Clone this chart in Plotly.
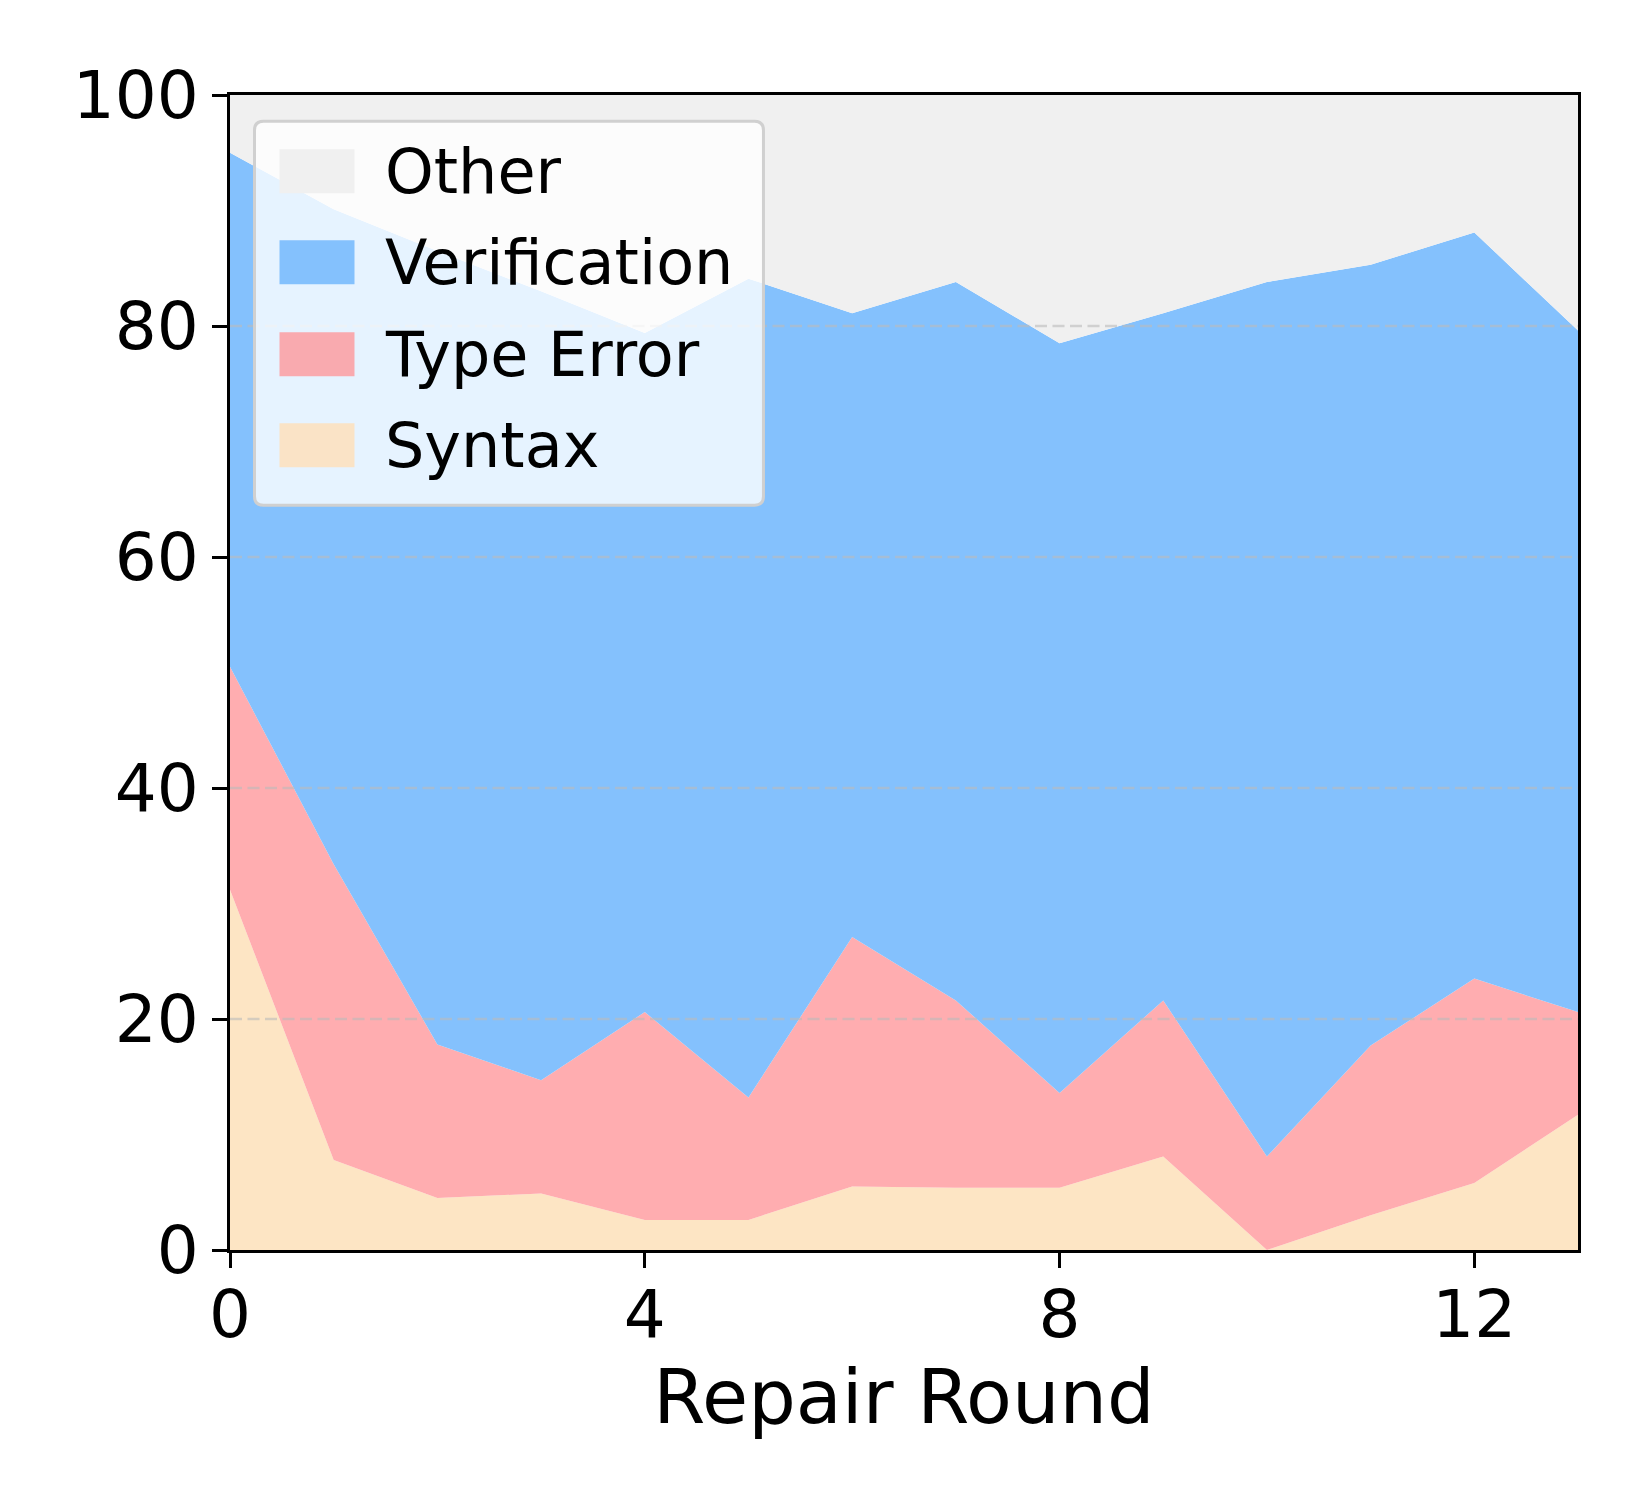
import plotly.graph_objects as go

rounds = list(range(14))
syntax = [31.2, 7.8, 4.5, 4.9, 2.6, 2.6, 5.5, 5.4, 5.4, 8.1, 0.0, 3.0, 5.8, 11.7]
type_error = [19.3, 25.6, 13.3, 9.8, 18.0, 10.6, 21.6, 16.2, 8.2, 13.5, 8.1, 14.7, 17.7, 8.9]
verification = [44.5, 56.7, 68.7, 68.3, 58.8, 70.9, 54.0, 62.2, 64.9, 59.5, 75.7, 67.6, 64.6, 59.0]
other = [5.0, 9.9, 13.5, 17.0, 20.6, 15.9, 18.9, 16.2, 21.5, 18.9, 16.2, 14.7, 11.9, 20.4]

series_names = ["Syntax", "Type Error", "Verification", "Other"]
series_values = [syntax, type_error, verification, other]
colors = ["#FDE5C4", "#FFADB0", "#84C1FD", "#F0F0F0"]
legend_colors = {"Other": "#F0F0F0", "Verification": "#84C1FD", "Type Error": "#F9AAAF", "Syntax": "#FAE3C6"}

x_ticks = [0, 4, 8, 12]
y_ticks = [0, 20, 40, 60, 80, 100]
grid_vals = [20, 40, 60, 80]

W, H = 1650, 1500
OFF = 8  # default body margin of the html page
L, R, T, B = 229.5, 1577.6, 94.7, 1250.1
FONT = "DejaVu Sans"

fig = go.Figure()
for name, vals, col in zip(series_names, series_values, colors):
    fig.add_trace(go.Scatter(
        x=rounds, y=vals, name=name, mode="lines",
        line=dict(width=0, color=col), fillcolor=col,
        stackgroup="one", showlegend=False, hoverinfo="x+y+name",
    ))

def px_x(p):
    return (p - L) / (R - L)

def px_y(p):
    return (B - p) / (B - T)

shapes = []
for g in grid_vals:
    shapes.append(dict(type="line", xref="paper", yref="y", x0=0, x1=1, y0=g, y1=g,
                       line=dict(color="rgba(187,187,187,0.6)", width=2.5, dash="12px,5.5px"), layer="above"))

# rounded legend box
bx0, bx1, by0, by1, rad = 254, 763, 121, 505, 9
def P(x, y):
    return f"{px_x(x):.5f},{px_y(y):.5f}"
path = (f"M{P(bx0 + rad, by0)} L{P(bx1 - rad, by0)} Q{P(bx1, by0)} {P(bx1, by0 + rad)} "
        f"L{P(bx1, by1 - rad)} Q{P(bx1, by1)} {P(bx1 - rad, by1)} "
        f"L{P(bx0 + rad, by1)} Q{P(bx0, by1)} {P(bx0, by1 - rad)} "
        f"L{P(bx0, by0 + rad)} Q{P(bx0, by0)} {P(bx0 + rad, by0)} Z")
shapes.append(dict(type="path", xref="paper", yref="paper", path=path,
                   fillcolor="rgba(255,255,255,0.8)", line=dict(color="#D0D0D0", width=3), layer="above"))

annotations = []
legend_order = ["Other", "Verification", "Type Error", "Syntax"]
centers = [171, 262, 354, 445]
for name, cy in zip(legend_order, centers):
    shapes.append(dict(type="rect", xref="paper", yref="paper",
                       x0=px_x(279), x1=px_x(354), y0=px_y(cy + 22), y1=px_y(cy - 22),
                       fillcolor=legend_colors[name], line=dict(width=0), layer="above"))
    annotations.append(dict(xref="paper", yref="paper", x=px_x(383), y=px_y(cy),
                            xanchor="left", yanchor="middle", text=name, showarrow=False,
                            font=dict(family=FONT, size=62, color="black")))

fig.update_layout(
    width=W, height=H,
    margin=dict(l=L - OFF, r=W - R + OFF, t=T - OFF, b=H - B + OFF, pad=0),
    paper_bgcolor="white", plot_bgcolor="white",
    font=dict(family=FONT, size=62, color="black"),
    shapes=shapes, annotations=annotations,
    showlegend=False,
)
fig.update_xaxes(
    range=[0, 13], tickvals=x_ticks, ticktext=[str(v) for v in x_ticks],
    ticks="outside", ticklen=15, tickwidth=3, tickcolor="black",
    showline=True, linewidth=3, linecolor="black", mirror=True,
    showgrid=False, zeroline=False, ticklabelstandoff=-10,
    tickfont=dict(family=FONT, size=66, color="black"),
    title=dict(text="Repair Round", font=dict(family=FONT, size=75, color="black"), standoff=14),
)
fig.update_yaxes(
    range=[0, 100], tickvals=y_ticks, ticktext=[str(v) for v in y_ticks],
    ticks="outside", ticklen=15, tickwidth=3, tickcolor="black",
    showline=True, linewidth=3, linecolor="black", mirror=True,
    showgrid=False, zeroline=False,
    tickfont=dict(family=FONT, size=66, color="black"),
)

fig.write_html("out.html")
